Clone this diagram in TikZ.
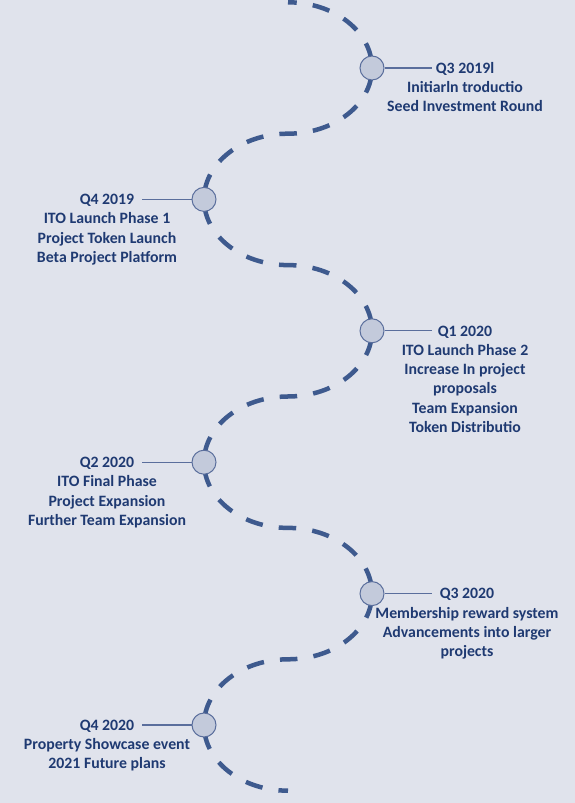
\documentclass[tikz,border=0pt]{standalone}
\usepackage{fontspec}
\setmainfont{Carlito}
\definecolor{bgc}{HTML}{E0E3EC}
\definecolor{roadc}{HTML}{3E5A8E}
\definecolor{dotfill}{HTML}{C3CADB}
\definecolor{dotline}{HTML}{5A6E9C}
\definecolor{txtc}{HTML}{1F3A72}
\begin{document}
\begin{tikzpicture}[x=1pt,y=1pt,
  road/.style={draw=roadc,line width=4.5pt,dash pattern=on 17.5pt off 16.2pt,dash phase=8.75pt},
  dot/.style={circle,draw=dotline,fill=dotfill,line width=1pt,minimum size=24pt,inner sep=0pt},
  link/.style={draw=dotline,line width=1.1pt},
  lbl/.style={anchor=north,align=center,inner sep=0pt,text=txtc,font=\fontsize{15.8}{19.3}\selectfont\bfseries}
]
\fill[bgc] (0,0) rectangle (575,803);
\useasboundingbox (0,0) rectangle (575,803);
% dashed snake
\path[road] (288,800.7)
  arc[start angle=90,end angle=-90,x radius=84,y radius=65.7]
  arc[start angle=90,end angle=270,x radius=84,y radius=65.7]
  arc[start angle=90,end angle=-90,x radius=84,y radius=65.7]
  arc[start angle=90,end angle=270,x radius=84,y radius=65.7]
  arc[start angle=90,end angle=-90,x radius=84,y radius=65.7]
  arc[start angle=90,end angle=270,x radius=84,y radius=65.7];
% milestones
\node[dot] (d1) at (372,735) {};
\node[dot] (d2) at (204,603.6) {};
\node[dot] (d3) at (372,472.2) {};
\node[dot] (d4) at (204,340.8) {};
\node[dot] (d5) at (372,209.4) {};
\node[dot] (d6) at (204,78) {};
\coordinate (e1) at (432,735);
\coordinate (e2) at (142,603.6);
\coordinate (e3) at (432,472.2);
\coordinate (e4) at (142,340.8);
\coordinate (e5) at (432,209.4);
\coordinate (e6) at (142,78);
\draw[link] (d1.east) -- (e1);
\draw[link] (e2) -- (d2.west);
\draw[link] (d3.east) -- (e3);
\draw[link] (e4) -- (d4.west);
\draw[link] (d5.east) -- (e5);
\draw[link] (e6) -- (d6.west);
\node[lbl] (t1) at (465,742.9) {\rule{0pt}{13pt}Q3 2019l\\Initiarln troductio\\Seed Investment Round};
\node[lbl] (t2) at (107,611.5) {\rule{0pt}{13pt}Q4 2019\\ITO Launch Phase 1\\Project Token Launch\\Beta Project Platform};
\node[lbl] (t3) at (465,480.1) {\rule{0pt}{13pt}Q1 2020\\ITO Launch Phase 2\\Increase In project\\proposals\\Team Expansion\\Token Distributio};
\node[lbl] (t4) at (107,348.7) {\rule{0pt}{13pt}Q2 2020\\ITO Final Phase\\Project Expansion\\Further Team Expansion};
\node[lbl] (t5) at (467,217.3) {\rule{0pt}{13pt}Q3 2020\\Membership reward system\\Advancements into larger\\projects};
\node[lbl] (t6) at (107,85.9) {\rule{0pt}{13pt}Q4 2020\\Property Showcase event\\2021 Future plans};
\end{tikzpicture}
\end{document}
